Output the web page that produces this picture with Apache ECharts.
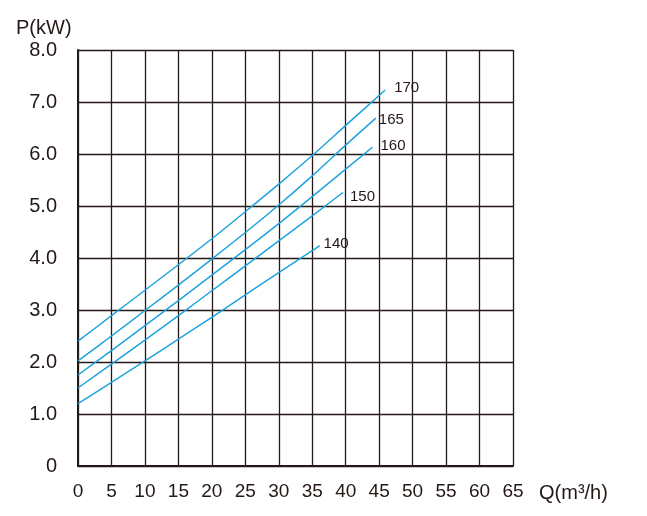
<!DOCTYPE html>
<html>
<head>
<meta charset="utf-8">
<script src="https://cdn.jsdelivr.net/npm/echarts@6/dist/echarts.min.js"></script>
<style>
html,body{margin:0;padding:0;background:#fff;}
#chart{width:647px;height:516px;}
</style>
</head>
<body>
<div id="chart"></div>
<script>
var xTicks = [0,5,10,15,20,25,30,35,40,45,50,55,60,65];
var yTicks = [0,1,2,3,4,5,6,7,8];
var curveNames = ['170','165','160','150','140'];
var q170 = [0,5,10,15,20,25,30,35,40,45.9];
var p170 = [2.40,2.89,3.38,3.87,4.37,4.89,5.42,5.97,6.55,7.23];
var q165 = [0,5,10,15,20,25,30,35,40,44.5];
var p165 = [2.02,2.50,2.99,3.48,3.98,4.49,5.02,5.58,6.17,6.69];
var q160 = [0,5,10,15,20,25,30,35,40,44.0];
var p160 = [1.75,2.22,2.70,3.18,3.67,4.16,4.66,5.18,5.71,6.13];
var q150 = [0,5,10,15,20,25,30,35,39.6];
var p150 = [1.50,1.96,2.42,2.89,3.37,3.85,4.33,4.81,5.26];
var q140 = [0,5,10,15,20,25,30,35,36.1];
var p140 = [1.20,1.61,2.02,2.44,2.86,3.29,3.72,4.14,4.24];

function pairs(q,p){ return q.map(function(v,i){ return [v,p[i]]; }); }
var curves = [pairs(q170,p170),pairs(q165,p165),pairs(q160,p160),pairs(q150,p150),pairs(q140,p140)];
var labelOffsets = [[3,-2],[-3,2],[2,-1],[1,4],[-2,-2]];

var gridColor = '#231815';
var lineColor = '#1fa3df';
var fontFam = '"Liberation Sans", Arial, sans-serif';

var chart = echarts.init(document.getElementById('chart'), null, {renderer:'canvas'});
var series = curves.map(function(d,i){
  return {
    type:'line', data:d, showSymbol:false, smooth:0.3, silent:true,
    lineStyle:{color:lineColor, width:1.5},
    endLabel:{show:true, formatter:curveNames[i], color:'#231815', fontSize:15,
      fontFamily:fontFam, offset:labelOffsets[i], distance:6},
    z:3
  };
});
chart.setOption({
  animation:false,
  grid:{left:78, right:134, top:50, bottom:50},
  xAxis:{type:'value', min:0, max:65, interval:5,
    axisLine:{show:true, lineStyle:{color:gridColor, width:2}},
    axisTick:{show:false},
    splitLine:{show:true, lineStyle:{color:gridColor, width:1.3}},
    axisLabel:{color:'#231815', fontSize:19, fontFamily:fontFam, margin:16,
      formatter:function(v){ return xTicks.indexOf(v)>=0 ? String(v) : ''; }}
  },
  yAxis:{type:'value', min:0, max:8, interval:1,
    axisLine:{show:true, lineStyle:{color:gridColor, width:2}},
    axisTick:{show:false},
    splitLine:{show:true, lineStyle:{color:gridColor, width:1.3}},
    axisLabel:{color:'#231815', fontSize:20, fontFamily:fontFam, margin:21,
      formatter:function(v){ return yTicks.indexOf(v)>=0 ? (v===0?'0':v.toFixed(1)) : ''; }}
  },
  graphic:[
    {type:'text', left:16, top:18, style:{text:'P(kW)', fill:'#231815', font:'20px '+fontFam}},
    {type:'text', left:539, top:483, style:{text:'Q(m³/h)', fill:'#231815', font:'20px '+fontFam}}
  ],
  series:series
});
</script>
</body>
</html>
